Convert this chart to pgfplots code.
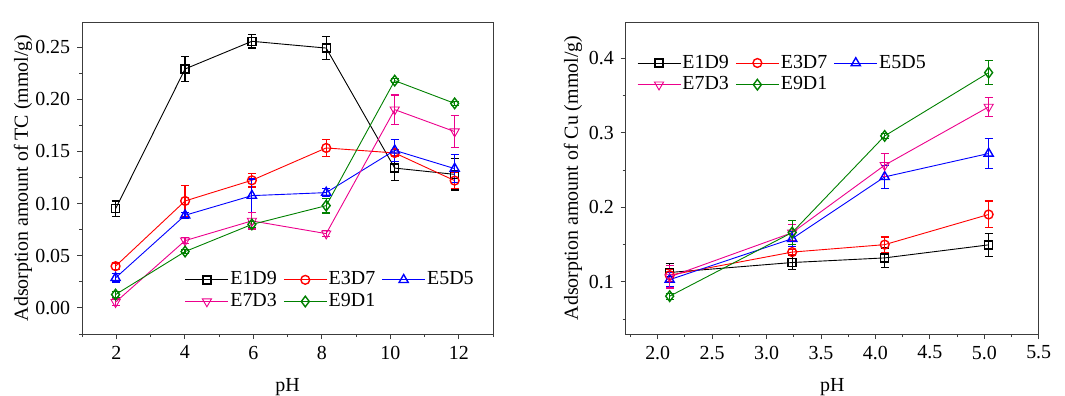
\documentclass[border=0pt]{standalone}
\usepackage{fontspec}
\setmainfont{Liberation Serif}
\usepackage{pgfplots}
\usepackage{pgfplotstable}
\pgfplotsset{compat=1.18}
\definecolor{ogreen}{RGB}{0,128,0}
\definecolor{axgray}{RGB}{60,60,60}

\pgfplotstableread{
x y e
1.98 0.095 0.0075
4.01 0.229 0.012
5.96 0.2555 0.0065
8.13 0.249 0.011
10.13 0.134 0.012
11.88 0.128 0.015
}\AEone
\pgfplotstableread{
x y e
1.98 0.040 0.003
4.01 0.1025 0.015
5.96 0.1223 0.0065
8.13 0.1533 0.008
10.13 0.1485 0.003
11.88 0.122 0.0077
}\AEthree
\pgfplotstableread{
x y e
1.98 0.0288 0.004
4.01 0.0888 0.003
5.96 0.1076 0.016
8.13 0.1105 0.004
10.13 0.151 0.0105
11.88 0.1335 0.0135
}\AEfive
\pgfplotstableread{
x y e
1.98 0.0055 0.003
4.01 0.0645 0.003
5.96 0.0834 0.0077
8.13 0.0712 0.003
10.13 0.190 0.014
11.88 0.169 0.0153
}\AEseven
\pgfplotstableread{
x y e
1.98 0.0128 0.003
4.01 0.054 0.002
5.96 0.080 0.003
8.13 0.098 0.007
10.13 0.2178 0.002
11.88 0.196 0.002
}\AEnine

\pgfplotstableread{
x y e
2.11 0.1126 0.012
3.235 0.126 0.0098
4.085 0.1322 0.0134
5.04 0.1497 0.0152
}\BEone
\pgfplotstableread{
x y e
2.11 0.109 0.008
3.235 0.140 0.003
4.085 0.150 0.0103
5.04 0.1905 0.018
}\BEthree
\pgfplotstableread{
x y e
2.11 0.103 0.010
3.235 0.158 0.010
4.085 0.241 0.0157
5.04 0.2724 0.020
}\BEfive
\pgfplotstableread{
x y e
2.11 0.1067 0.015
3.235 0.166 0.011
4.085 0.2567 0.0157
5.04 0.335 0.0125
}\BEseven
\pgfplotstableread{
x y e
2.11 0.0808 0.004
3.235 0.1663 0.0166
4.085 0.296 0.003
5.04 0.381 0.016
}\BEnine

\pgfplotsset{
  myaxis/.style={
    scale only axis,
    width=411bp, height=312bp,
    axis line style={axgray, line width=0.9bp},
    tick style={axgray, line width=0.9bp},
    tick align=outside,
    xtick pos=bottom, ytick pos=left,
    major tick length=5bp, minor tick length=3bp,
    /pgf/number format/assume math mode=true,
    tick label style={font=\fontsize{20}{23}\selectfont},
    label style={font=\fontsize{20}{23}\selectfont},
    legend style={draw=none, fill=none, font=\fontsize{20}{23}\selectfont,
      inner sep=0pt, row sep=2.5bp,
      nodes={inner sep=1.5bp},
      /tikz/every even column/.append style={column sep=5bp}},
    legend columns=3,
    legend cell align=left,
    legend image code/.code={\draw[mark repeat=2,mark phase=2] plot coordinates {(0bp,0bp) (21.5bp,0bp) (43bp,0bp)};},
    every axis plot/.append style={line width=0.9bp, mark options={solid, fill=white, line width=1.4bp}},
    error bars/y dir=both, error bars/y explicit,
    error bars/error mark options={rotate=90, mark size=4bp, line width=1.2bp},
    error bars/error bar style={line width=1.2bp},
  },
  s1/.style={black, mark=square, mark size=4bp},
  s3/.style={red, mark=o, mark size=4.4bp},
  s5/.style={blue, mark=triangle, mark size=5.3bp},
  s7/.style={magenta, mark=triangle, mark options={rotate=180}, mark size=5.3bp},
  s9/.style={ogreen, mark=diamond, mark size=5.3bp},
}

\begin{document}
\fontsize{20}{23}\selectfont
\begin{tikzpicture}[x=1bp,y=1bp]
\useasboundingbox (0,0) rectangle (1065,395);
\begin{axis}[myaxis,
  at={(82bp,61bp)}, anchor=south west,
  xmin=1, xmax=13, ymin=-0.025, ymax=0.274,
  xtick={2,4,6,8,10,12}, minor xtick={1,3,5,7,9,11,13},
  ytick={0,0.05,0.1,0.15,0.2,0.25},
  minor ytick={-0.025,0.025,0.075,0.125,0.175,0.225},
  yticklabel style={/pgf/number format/.cd, fixed, fixed zerofill, precision=2},
  xlabel={pH}, ylabel={Adsorption amount of TC (mmol/g)},
  xlabel style={at={(axis description cs:0.5,-0.169)}, anchor=center},
  ylabel style={at={(axis description cs:-0.1435,0.5)}, anchor=center},
  legend style={at={(axis description cs:0.250,0.205)}, anchor=north west},
]
\addplot[s1] table[x=x,y=y,y error=e] {\AEone}; \addlegendentry{E1D9}
\addplot[s3] table[x=x,y=y,y error=e] {\AEthree}; \addlegendentry{E3D7}
\addplot[s5] table[x=x,y=y,y error=e] {\AEfive}; \addlegendentry{E5D5}
\addplot[s7] table[x=x,y=y,y error=e] {\AEseven}; \addlegendentry{E7D3}
\addplot[s9] table[x=x,y=y,y error=e] {\AEnine}; \addlegendentry{E9D1}
\node[anchor=west] at (axis description cs:-0.182,0.987) {(A)};
\end{axis}
\begin{axis}[myaxis,
  at={(625.7bp,61bp)}, anchor=south west, width=413bp,
  xmin=1.706, xmax=5.5, ymin=0.03, ymax=0.449,
  xtick={2,2.5,3,3.5,4,4.5,5,5.5},
  minor xtick={1.75,2.25,2.75,3.25,3.75,4.25,4.75,5.25},
  xticklabel style={/pgf/number format/.cd, fixed, fixed zerofill, precision=1},
  ytick={0.1,0.2,0.3,0.4},
  minor ytick={0.05,0.15,0.25,0.35},
  yticklabel style={/pgf/number format/.cd, fixed, fixed zerofill, precision=1},
  xlabel={pH}, ylabel={Adsorption amount of Cu (mmol/g)},
  xlabel style={at={(axis description cs:0.5,-0.169)}, anchor=center},
  ylabel style={at={(axis description cs:-0.1276,0.5)}, anchor=center},
  legend style={at={(axis description cs:0.027,0.90)}, anchor=north west},
]
\addplot[s1] table[x=x,y=y,y error=e] {\BEone}; \addlegendentry{E1D9}
\addplot[s3] table[x=x,y=y,y error=e] {\BEthree}; \addlegendentry{E3D7}
\addplot[s5] table[x=x,y=y,y error=e] {\BEfive}; \addlegendentry{E5D5}
\addplot[s7] table[x=x,y=y,y error=e] {\BEseven}; \addlegendentry{E7D3}
\addplot[s9] table[x=x,y=y,y error=e] {\BEnine}; \addlegendentry{E9D1}
\node[anchor=west] at (axis description cs:-0.1535,0.994) {(B)};
\end{axis}
\end{tikzpicture}
\end{document}
